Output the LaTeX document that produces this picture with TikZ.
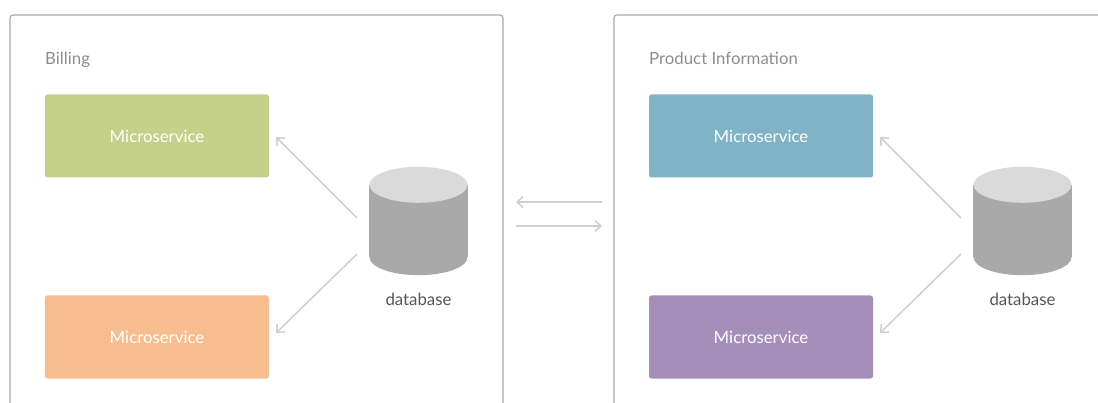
\documentclass[tikz,border=0pt]{standalone}
\usepackage{fontspec}
\setmainfont{Lato}
\usetikzlibrary{arrows.meta}

\definecolor{frame}{HTML}{A8A8A8}
\definecolor{labelgray}{HTML}{8C8C8C}
\definecolor{linkgray}{HTML}{CFCFCF}
\definecolor{svgreen}{HTML}{C5D189}
\definecolor{svorange}{HTML}{F8BD8F}
\definecolor{svblue}{HTML}{80B3C6}
\definecolor{svpurple}{HTML}{A68EBA}
\definecolor{dbtop}{HTML}{DADADA}
\definecolor{dbside}{HTML}{A9A9A9}
\definecolor{dbtext}{HTML}{555555}

\tikzset{
  panel/.style={draw=frame, line width=1.1pt, rounded corners=3pt},
  paneltitle/.style={anchor=base west, text=labelgray, font=\fontsize{16.8}{19}\selectfont, inner sep=0pt},
  service/.style={rounded corners=2.5pt, minimum width=224pt, minimum height=83pt,
    text=white, font=\fontsize{16.8}{19}\selectfont, inner sep=0pt,
    text height=14pt, text depth=0pt},
  dbbox/.style={minimum width=98pt, minimum height=108pt, inner sep=0pt},
  dblabel/.style={text=dbtext, font=\fontsize{16.8}{19}\selectfont, inner sep=0pt},
  link/.style={draw=linkgray, line width=1.5pt,
    -{Straight Barb[length=6pt, width=11pt, line width=1.5pt]}}
}

% cylinder drawn inside the named box #1
\newcommand{\dbcylinder}[1]{%
  \fill[dbside] ([yshift=-18pt]#1.north west) rectangle ([yshift=18pt]#1.south east);
  \fill[dbside] ([yshift=18pt]#1.south) ellipse[x radius=49pt, y radius=18pt];
  \fill[dbtop] ([yshift=-18pt]#1.north) ellipse[x radius=49pt, y radius=18pt];
}

\begin{document}
\begin{tikzpicture}[x=1pt, y=-1pt]
\useasboundingbox (0,0) rectangle (1098,403);
\clip (0,0) rectangle (1098,403);

% bounded contexts
\draw[panel] (10,420) -- (10,15) -- (503,15) -- (503,420);
\draw[panel] (614,420) -- (614,15) -- (1120,15);

\node[paneltitle] (billing) at (45,65) {Billing};
\node[paneltitle] (product) at (649,65) {Product Information};

% microservices
\node[service, fill=svgreen]  (msA1) at (157,136) {Microservice};
\node[service, fill=svorange] (msA2) at (157,337) {Microservice};
\node[service, fill=svblue]   (msB1) at (761,136) {Microservice};
\node[service, fill=svpurple] (msB2) at (761,337) {Microservice};

% databases
\node[dbbox] (dbA) at (418.5,221) {};
\node[dbbox] (dbB) at (1022.5,221) {};
\dbcylinder{dbA}
\dbcylinder{dbB}
\node[dblabel] (dbAlabel) at (418.5,299.5) {database};
\node[dblabel] (dbBlabel) at (1022.5,299.5) {database};

% link end points
\coordinate (a1) at (357,218);
\coordinate (a2) at (276,137);
\coordinate (a3) at (357,254);
\coordinate (a4) at (276,333);
\coordinate (b1) at (961,218);
\coordinate (b2) at (880,137);
\coordinate (b3) at (961,254);
\coordinate (b4) at (880,333);
\coordinate (m1) at (602,202);
\coordinate (m2) at (516,202);
\coordinate (m3) at (516,226);
\coordinate (m4) at (602,226);

\draw[link] (a1) -- (a2);
\draw[link] (a3) -- (a4);
\draw[link] (b1) -- (b2);
\draw[link] (b3) -- (b4);
\draw[link] (m1) -- (m2);
\draw[link] (m3) -- (m4);
\end{tikzpicture}
\end{document}
